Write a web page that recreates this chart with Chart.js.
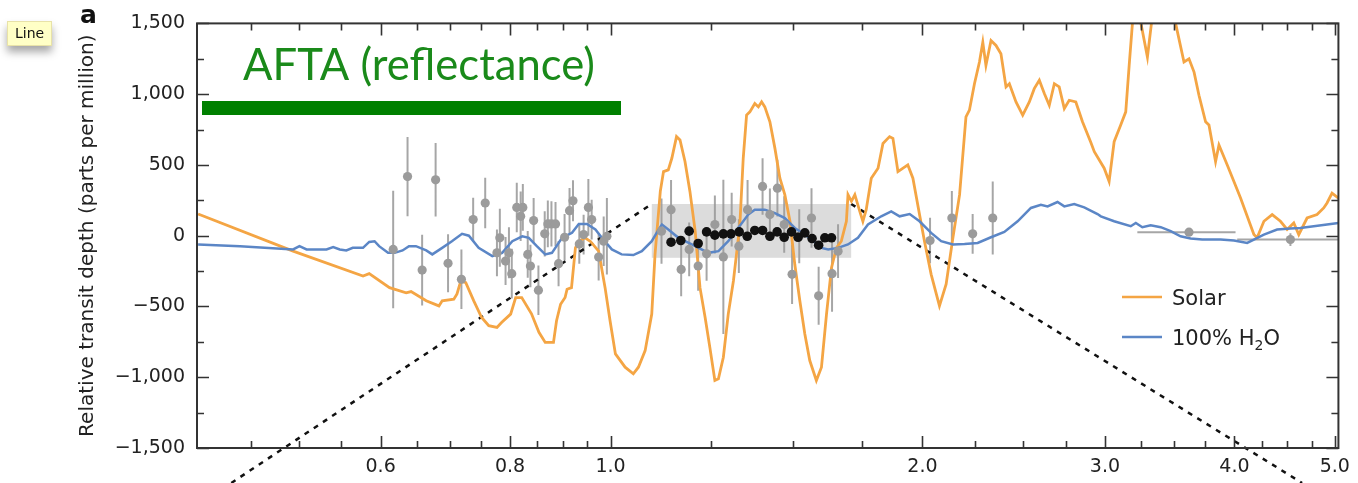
<!DOCTYPE html>
<html>
<head>
<meta charset="utf-8">
<title>Relative transit depth</title>
<script src="https://cdn.jsdelivr.net/npm/chart.js@4.4.0/dist/chart.umd.min.js"></script>
<style>
  html, body { margin: 0; padding: 0; background: #fff; }
  #wrap { position: relative; width: 1358px; height: 483px; }
  #tag {
    position: absolute; left: 7px; top: 21px; padding: 3px 7px 4px 7px;
    background: #ffffc6; border: 1px solid #e8e2a8;
    font: 14px "DejaVu Sans", sans-serif; color: #111;
    box-shadow: 0 6px 9px rgba(0, 0, 0, 0.35);
  }
</style>
</head>
<body>
<div id="wrap">
  <canvas id="spectrum"></canvas>
  <div id="tag">Line</div>
</div>
<script>
// wavelength (micron) / relative transit depth (ppm)
var solarX = [0.4, 0.494, 0.577, 0.585, 0.612, 0.635, 0.642, 0.664, 0.683, 0.688, 0.706, 0.711, 0.717, 0.725, 0.738, 0.751, 0.763, 0.777, 0.785, 0.801,
  0.810, 0.821, 0.839, 0.853, 0.865, 0.881, 0.887, 0.895, 0.904, 0.908, 0.917, 0.925, 0.932, 0.945, 0.956, 0.974, 0.988, 0.999, 1.011, 1.033,
  1.052, 1.064, 1.080, 1.096, 1.104, 1.117, 1.125, 1.137, 1.146, 1.158, 1.167, 1.180, 1.193, 1.207, 1.220, 1.234, 1.247, 1.261, 1.271, 1.285,
  1.299, 1.314, 1.323, 1.333, 1.343, 1.353, 1.363, 1.378, 1.389, 1.399, 1.409, 1.425, 1.441, 1.457, 1.473, 1.490, 1.506, 1.523, 1.540, 1.557,
  1.580, 1.598, 1.616, 1.634, 1.652, 1.670, 1.689, 1.695, 1.708, 1.721, 1.740, 1.752, 1.765, 1.785, 1.812, 1.832, 1.859, 1.873, 1.894, 1.936,
  1.958, 1.987, 2.009, 2.039, 2.077, 2.108, 2.140, 2.172, 2.203, 2.220, 2.245, 2.270, 2.287, 2.303, 2.329, 2.355, 2.381, 2.408, 2.426, 2.462,
  2.499, 2.536, 2.564, 2.593, 2.622, 2.651, 2.681, 2.710, 2.741, 2.771, 2.812, 2.854, 2.907, 2.930, 2.995, 3.028, 3.062, 3.107, 3.142, 3.166,
  3.189, 3.210, 3.246, 3.297, 3.334, 3.408, 3.492, 3.510, 3.576, 3.616, 3.657, 3.697, 3.752, 3.780, 3.836, 3.865, 3.937, 4.055, 4.177, 4.207,
  4.271, 4.350, 4.431, 4.497, 4.564, 4.615, 4.701, 4.806, 4.878, 4.914, 4.969, 5.04];
var solarY = [153, -109, -285, -268, -367, -404, -395, -460, -496, -460, -449, -412, -320, -332, -460, -578, -636, -648, -613, -554,
  -437, -437, -552, -683, -754, -754, -601, -484, -437, -378, -367, -86, -39, -15, -39, -109, -367, -601, -835, -929,
  -976, -929, -812, -554, -132, 313, 453, 465, 547, 700, 676, 524, 313, 32, -367, -578, -789, -1023, -1011, -859,
  -554, -320, -132, 79, 547, 852, 875, 934, 910, 946, 910, 805, 617, 406, 290, 102, -202, -460, -695, -882,
  -1023, -929, -554, -226, -86, -39, 102, 290, 243, 290, 172, 102, 184, 406, 477, 652, 700, 688, 453, 500,
  406, 149, -39, -273, -496, -343, -15, 290, 840, 887, 1074, 1227, 1367, 1203, 1379, 1344, 1285, 1051, 1074, 945,
  852, 945, 1039, 1098, 1004, 922, 1074, 1051, 899, 957, 945, 805, 660, 594, 477, 383, 664, 782, 875, 1203,
  1500, 1650, 1520, 1262, 1560, 1720, 1600, 1500, 1227, 1250, 1156, 992, 805, 782, 524, 641, 500, 266, 8, -15,
  102, 149, 102, 44, 90, 8, 125, 149, 196, 231, 301, 266];

var waterX = [0.4, 0.439, 0.494, 0.501, 0.509, 0.532, 0.540, 0.548, 0.556, 0.564, 0.577, 0.585, 0.592, 0.598, 0.610, 0.619, 0.630, 0.639, 0.649, 0.664,
  0.673, 0.688, 0.703, 0.719, 0.730, 0.746, 0.769, 0.786, 0.804, 0.822, 0.834, 0.849, 0.865, 0.878, 0.898, 0.918, 0.932, 0.949, 0.967, 0.981,
  1.003, 1.025, 1.052, 1.072, 1.096, 1.112, 1.121, 1.137, 1.163, 1.198, 1.243, 1.271, 1.299, 1.328, 1.358, 1.378, 1.409, 1.441, 1.473, 1.506,
  1.555, 1.598, 1.622, 1.658, 1.695, 1.733, 1.772, 1.825, 1.866, 1.901, 1.944, 1.987, 2.039, 2.085, 2.140, 2.196, 2.261, 2.329, 2.399, 2.471,
  2.545, 2.602, 2.641, 2.700, 2.741, 2.802, 2.865, 2.951, 2.973, 3.062, 3.177, 3.213, 3.260, 3.321, 3.396, 3.472, 3.549, 3.629, 3.724, 3.879,
  3.996, 4.115, 4.177, 4.271, 4.398, 4.530, 4.631, 4.771, 4.914, 5.04];
var waterY = [-62, -74, -97, -74, -97, -97, -81, -97, -104, -86, -86, -44, -39, -74, -121, -121, -104, -74, -74, -104,
  -132, -86, -39, 13, 0, -86, -144, -121, -39, -4, -15, -74, -132, -121, -15, 20, 83, 83, 44, -15,
  -97, -132, -137, -109, -39, 40, 79, 44, -15, -62, -121, -109, -39, 55, 149, 184, 184, 160, 125, 55,
  -15, -86, -97, -86, -62, -15, 79, 137, 172, 137, 153, 102, 20, -39, -62, -58, -51, -11, 27, 102,
  196, 219, 207, 238, 207, 224, 200, 153, 137, 102, 67, 90, 60, 74, 60, 32, -4, -20, -27, -27,
  -34, -51, -27, 8, 44, 51, 55, 67, 79, 90];

// individual measurements with 1-sigma errors
var obsX = [0.617, 0.637, 0.658, 0.678, 0.697, 0.718, 0.737, 0.757, 0.777, 0.782, 0.792, 0.798, 0.803, 0.812, 0.819, 0.823, 0.832, 0.837, 0.843, 0.852,
  0.864, 0.870, 0.877, 0.885, 0.891, 0.903, 0.913, 0.920, 0.933, 0.942, 0.952, 0.959, 0.974, 0.985, 0.992,
  1.120, 1.144, 1.170, 1.191, 1.215, 1.238, 1.261, 1.285, 1.309, 1.330, 1.356, 1.402, 1.425, 1.449, 1.471, 1.497, 1.521, 1.563, 1.588, 1.636, 1.658,
  2.034, 2.135, 2.236, 2.338];
var obsY = [-97, 418, -243, 395, -195, -308, 114, 231, -121, -15, -179, -121, -268, 200, 137, 200, -132, -214, 107, -385,
  13, 83, 83, 83, -198, -11, 177, 247, -58, 8, 200, 114, -151, -39, -4,
  32, 184, -238, -97, -214, -128, 79, -150, 114, -74, 184, 348, 149, 336, 79, -273, -4, 125, -425, -268, -109,
  -34, 125, 13, 125];
var obsErr = [415, 280, 250, 260, 205, 210, 155, 178, 165, 205, 170, 180, 175, 175, 175, 165, 165, 150, 160, 175,
  160, 165, 160, 155, 160, 165, 160, 145, 140, 140, 200, 140, 165, 175, 270,
  230, 210, 190, 190, 175, 190, 205, 545, 190, 190, 210, 200, 185, 200, 200, 210, 190, 210, 205, 270, 190,
  160, 190, 140, 258];

// broadband points with wavelength ranges
var bandObsX = [3.616, 4.530];
var bandObsY = [25, -27];
var bandObsLo = [3.224, 4.025];
var bandObsHi = [4.010, 5.20];
var bandObsErr = [0, 45];

// binned points inside the shaded window
var binX = [1.144, 1.169, 1.191, 1.215, 1.238, 1.261, 1.285, 1.307, 1.331, 1.355, 1.378, 1.402, 1.425, 1.448, 1.471, 1.495, 1.517, 1.540, 1.565, 1.588, 1.610, 1.634];
var binY = [-46, -34, 32, -55, 27, 4, 13, 13, 27, -4, 37, 37, -4, 27, -11, 27, -11, 20, -20, -67, -15, -15];

// shaded window and the lines fanning out from its corners
var windowX = [1.096, 1.707];
var windowY = [-156, 224];
var fanLeftX = [0.4306, 1.096];
var fanLeftY = [-1747, 224];
var fanRightX = [1.707, 4.649];
var fanRightY = [224, -1747];

// axis ticks
var xTickValues = [0.6, 0.8, 1.0, 2.0, 3.0, 4.0, 5.0];
var xMinorTicks = [0.45, 0.5, 0.55, 0.65, 0.7, 0.75, 0.85, 0.9, 0.95, 1.25, 1.5, 1.75, 2.25, 2.5, 2.75, 3.25, 3.5, 3.75, 4.25, 4.5, 4.75];
var yTickValues = [-1500, -1000, -500, 0, 500, 1000, 1500];
var yMinorTicks = [-1250, -750, -250, 250, 750, 1250];

var ORANGE = '#f4a544';
var BLUE = '#5b86c6';
var INK = '#222';

function toXY(xs, ys) {
  return xs.map(function (x, i) { return { x: x, y: ys[i] }; });
}

function ppm(v) {
  var s = String(Math.abs(v)).replace(/\B(?=(\d{3})+(?!\d))/g, ',');
  return v < 0 ? '\u2212' + s : s;
}

var decorations = {
  id: 'decorations',
  beforeDatasetsDraw: function (chart) {
    var ctx = chart.ctx, a = chart.chartArea, x = chart.scales.x, y = chart.scales.y;
    ctx.save();
    ctx.beginPath();
    ctx.rect(a.left, a.top, a.right - a.left, a.bottom - a.top);
    ctx.clip();

    // shaded window
    var wx0 = x.getPixelForValue(windowX[0]), wx1 = x.getPixelForValue(windowX[1]);
    var wy0 = y.getPixelForValue(windowY[1]), wy1 = y.getPixelForValue(windowY[0]);
    ctx.fillStyle = '#dcdcdc';
    ctx.fillRect(wx0, wy0, wx1 - wx0, wy1 - wy0);

    // error bars
    ctx.strokeStyle = 'rgba(150,150,150,0.85)';
    ctx.lineWidth = 2;
    ctx.beginPath();
    obsX.forEach(function (v, i) {
      var px = x.getPixelForValue(v);
      ctx.moveTo(px, y.getPixelForValue(obsY[i] - obsErr[i]));
      ctx.lineTo(px, y.getPixelForValue(obsY[i] + obsErr[i]));
    });
    bandObsX.forEach(function (v, i) {
      var py = y.getPixelForValue(bandObsY[i]);
      ctx.moveTo(x.getPixelForValue(bandObsLo[i]), py);
      ctx.lineTo(x.getPixelForValue(bandObsHi[i]), py);
      if (bandObsErr[i] > 0) {
        var px = x.getPixelForValue(v);
        ctx.moveTo(px, y.getPixelForValue(bandObsY[i] - bandObsErr[i]));
        ctx.lineTo(px, y.getPixelForValue(bandObsY[i] + bandObsErr[i]));
      }
    });
    ctx.stroke();
    ctx.restore();
  },
  afterDatasetsDraw: function (chart) {
    var ctx = chart.ctx, a = chart.chartArea, x = chart.scales.x, y = chart.scales.y;
    ctx.save();
    ctx.strokeStyle = '#333';
    ctx.lineWidth = 2;
    ctx.strokeRect(a.left, a.top, a.right - a.left, a.bottom - a.top);

    // inward tick marks on all four sides
    ctx.lineWidth = 1.6;
    ctx.beginPath();
    function yTick(v, len) {
      var py = Math.round(y.getPixelForValue(v)) + 0.5;
      ctx.moveTo(a.left, py); ctx.lineTo(a.left + len, py);
      ctx.moveTo(a.right, py); ctx.lineTo(a.right - len, py);
    }
    function xTick(v, len) {
      var px = Math.round(x.getPixelForValue(v)) + 0.5;
      ctx.moveTo(px, a.bottom); ctx.lineTo(px, a.bottom - len);
      ctx.moveTo(px, a.top); ctx.lineTo(px, a.top + len);
    }
    yTickValues.forEach(function (v) { yTick(v, 12); });
    yMinorTicks.forEach(function (v) { yTick(v, 7); });
    xTickValues.forEach(function (v) { xTick(v, 12); });
    xMinorTicks.forEach(function (v) { xTick(v, 7); });
    ctx.stroke();

    // legend
    ctx.lineWidth = 2.5;
    ctx.strokeStyle = ORANGE;
    ctx.beginPath(); ctx.moveTo(1122, 297); ctx.lineTo(1162, 297); ctx.stroke();
    ctx.strokeStyle = BLUE;
    ctx.beginPath(); ctx.moveTo(1122, 337); ctx.lineTo(1162, 337); ctx.stroke();
    ctx.fillStyle = INK;
    ctx.textBaseline = 'alphabetic';
    ctx.font = '21px "DejaVu Sans"';
    ctx.fillText('Solar', 1172, 305);
    var t = '100% H';
    ctx.fillText(t, 1172, 345);
    var w = ctx.measureText(t).width;
    ctx.font = '14px "DejaVu Sans"';
    ctx.fillText('2', 1172 + w, 350);
    var w2 = ctx.measureText('2').width;
    ctx.font = '21px "DejaVu Sans"';
    ctx.fillText('O', 1172 + w + w2, 345);
    ctx.restore();
  },
  afterDraw: function (chart) {
    var ctx = chart.ctx;
    ctx.save();
    ctx.fillStyle = '#111';
    ctx.font = 'bold 25px "DejaVu Sans"';
    ctx.textBaseline = 'alphabetic';
    ctx.fillText('a', 80, 23);

    // instrument band label
    var label = 'AFTA (reflectance)';
    ctx.font = '47px Lato';
    var size = 47 * 352 / ctx.measureText(label).width;
    ctx.font = size.toFixed(1) + 'px Lato';
    ctx.fillStyle = '#1a8a1a';
    ctx.fillText(label, 243, 80);
    ctx.fillStyle = '#008000';
    ctx.fillRect(202, 101, 419, 14);
    ctx.restore();
  }
};

var tickFont = { family: 'DejaVu Sans', size: 19 };

new Chart(document.getElementById('spectrum'), {
  type: 'scatter',
  data: {
    datasets: [
      { label: 'window-left', data: toXY(fanLeftX, fanLeftY), showLine: true, borderColor: '#111', borderWidth: 2.5,
        borderDash: [5, 6], pointRadius: 0, clip: false, order: 7 },
      { label: 'window-right', data: toXY(fanRightX, fanRightY), showLine: true, borderColor: '#111', borderWidth: 2.5,
        borderDash: [5, 6], pointRadius: 0, clip: false, order: 6 },
      { label: 'Solar', data: toXY(solarX, solarY), showLine: true, borderColor: ORANGE, borderWidth: 2.8,
        pointRadius: 0, order: 5 },
      { label: '100% H2O', data: toXY(waterX, waterY), showLine: true, borderColor: BLUE, borderWidth: 2.5,
        pointRadius: 0, order: 4 },
      { label: 'measurements', data: toXY(obsX, obsY).concat(toXY(bandObsX, bandObsY)), pointRadius: 4.6,
        backgroundColor: '#9b9b9b', borderWidth: 0, order: 3 },
      { label: 'binned', data: toXY(binX, binY), pointRadius: 4.8, backgroundColor: '#111', borderWidth: 0, order: 2 }
    ]
  },
  options: {
    responsive: true,
    maintainAspectRatio: false,
    animation: false,
    devicePixelRatio: 1,
    events: [],
    layout: { padding: { top: 21, right: 18, bottom: 0, left: 0 } },
    plugins: { legend: { display: false }, tooltip: { enabled: false } },
    scales: {
      x: {
        type: 'logarithmic', min: 0.399, max: 5.04,
        grid: { display: false, drawTicks: false }, border: { display: false },
        afterBuildTicks: function (s) { s.ticks = xTickValues.map(function (v) { return { value: v }; }); },
        afterFit: function (s) { s.height = 35; },
        ticks: { autoSkip: false, maxRotation: 0, padding: 8, color: INK, font: tickFont,
          callback: function (v) { return Number(v).toFixed(1); } }
      },
      y: {
        min: -1500, max: 1500,
        grid: { display: false, drawTicks: false }, border: { display: false },
        afterBuildTicks: function (s) { s.ticks = yTickValues.map(function (v) { return { value: v }; }); },
        afterFit: function (s) { s.width = 197; },
        ticks: { padding: 12, color: INK, font: tickFont, callback: ppm },
        title: { display: true, text: 'Relative transit depth (parts per million)', color: INK,
          font: { family: 'DejaVu Sans', size: 20 }, padding: { top: 76, bottom: 0 } }
      }
    }
  },
  plugins: [decorations]
});
</script>
</body>
</html>
